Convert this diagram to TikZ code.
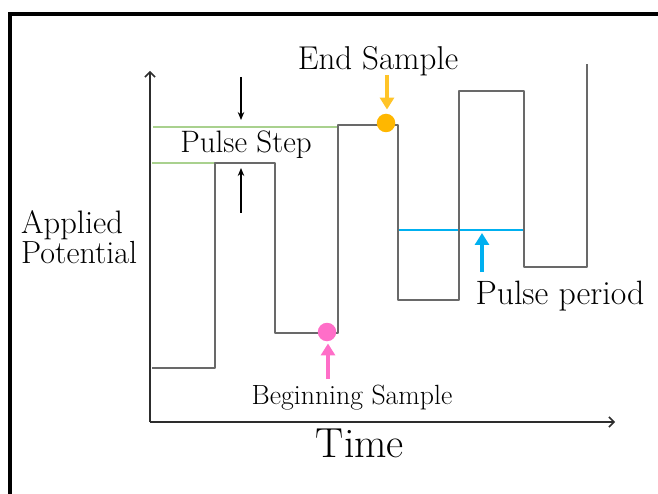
\documentclass[tikz,border=0pt]{standalone}
\usetikzlibrary{arrows.meta}
\definecolor{wave}{RGB}{105,105,105}
\definecolor{axisc}{RGB}{45,45,45}
\definecolor{stepgreen}{RGB}{169,209,142}
\definecolor{periodblue}{RGB}{0,176,240}
\definecolor{endorange}{RGB}{255,183,0}
\definecolor{endarrow}{RGB}{255,196,40}
\definecolor{beginpink}{RGB}{255,110,200}
\tikzset{
  frameline/.style={line width=3.5pt,black},
  axisline/.style={line width=1.8pt,axisc,-{Straight Barb[length=5pt,width=10pt,line width=1.5pt]}},
  waveline/.style={line width=1.6pt,wave,line join=round},
  stepline/.style={line width=1.6pt,stepgreen},
  periodline/.style={line width=2pt,periodblue},
  sampledot/.style={circle,inner sep=0pt,minimum size=18.5pt},
  fatarrow/.style={line width=4pt,-{Triangle[length=12pt,width=14pt]}},
  thinarrow/.style={line width=1.6pt,black,-{Stealth[length=8pt,width=6.5pt]}},
  lbl/.style={inner sep=0pt,anchor=base,black},
}
\newcommand{\fs}[1]{\fontsize{#1}{#1}\selectfont}
\begin{document}
\begin{tikzpicture}[x=1pt,y=-1pt]
\useasboundingbox (0,0) rectangle (658,494);

% outer frame (top and left edges)
\coordinate (fcorner) at (10,14);
\draw[frameline] (658,14) -- (fcorner) -- (10,494);

% axes
\coordinate (origin) at (150,422);
\coordinate (ytip) at (150,71);
\coordinate (xtip) at (615,422);
\draw[axisline] (origin) -- (ytip);
\draw[axisline] (origin) -- (xtip);

% pulse step guide lines
\draw[stepline] (153,127) -- (338,127);
\draw[stepline] (152,163) -- (215,163);

% pulse period guide line
\draw[periodline] (398,230) -- (524,230);

% staircase / square-wave potential
\draw[waveline] (152,368) -- (215,368) -- (215,163) -- (275,163) -- (275,333)
  -- (338,333) -- (338,125) -- (398,125) -- (398,300) -- (459,300)
  -- (459,91) -- (524,91) -- (524,267) -- (587,267) -- (587,64);

% sampling points
\node[sampledot,fill=endorange] (enddot) at (386,123) {};
\node[sampledot,fill=beginpink] (begindot) at (327,332) {};

% pointers
\coordinate (endtail) at (387,75);
\draw[fatarrow,endarrow,shorten >=4pt] (endtail) -- (endtail |- enddot.north);
\coordinate (begintail) at (328,379);
\draw[fatarrow,beginpink,shorten >=2pt] (begintail) -- (begintail |- begindot.south);
\coordinate (periodtail) at (482,272);
\coordinate (periodhead) at (482,230);
\draw[fatarrow,periodblue,shorten >=3pt] (periodtail) -- (periodhead);

\coordinate (stepdowntail) at (241,77);
\coordinate (stepdownhead) at (241,120);
\draw[thinarrow] (stepdowntail) -- (stepdownhead);
\coordinate (stepuptail) at (241,213);
\coordinate (stepuphead) at (241,168);
\draw[thinarrow] (stepuptail) -- (stepuphead);

% labels
\node[lbl] (endlbl) at (378,70) {\fs{33}End Sample};
\node[lbl] (steplbl) at (246,153) {\fs{31}Pulse Step};
\node[lbl] (beginlbl) at (352,404) {\fs{27.8}Beginning Sample};
\node[lbl] (periodlbl) at (560,304) {\fs{33.8}Pulse period};
\node[lbl] (timelbl) at (360,457) {\fs{42}Time};
\node[lbl,anchor=base west] (applbl) at (21,234) {\fs{32.5}Applied};
\node[lbl,anchor=base west] (potlbl) at (21,264) {\fs{32}Potential};
\end{tikzpicture}
\end{document}
